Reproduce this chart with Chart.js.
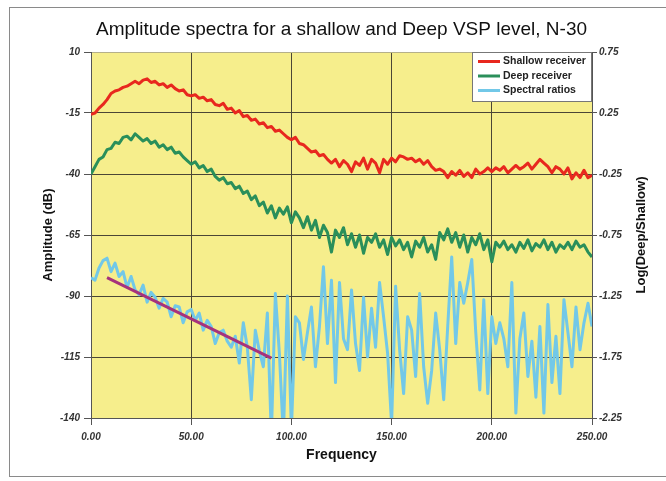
<!DOCTYPE html>
<html>
<head>
<meta charset="utf-8">
<title>Amplitude spectra</title>
<script src="https://cdn.jsdelivr.net/npm/chart.js@4/dist/chart.umd.min.js"></script>
<style>
  html, body { margin: 0; padding: 0; background: #fff; overflow: hidden; }
  #wrap { position: relative; width: 666px; height: 481px; }
  #frame { position: absolute; left: 9px; top: 7px; width: 700px; height: 470px; border: 1px solid #8a8a8a; box-sizing: border-box; pointer-events: none; }
</style>
</head>
<body>
<div id="wrap">
  <div id="frame"></div>
  <canvas id="chart" width="666" height="481"></canvas>
</div>
<script>
// sample frequencies (Hz), every 2 Hz from 0 to 250
const freq = Array.from({ length: 126 }, (_, i) => i * 2);

// Shallow receiver amplitude (dB)
const shallowDb = [
  -15.5, -15, -13, -11.5, -9.5, -7, -6, -5.5, -4.5, -4,
  -3, -2, -3, -1.5, -1, -2.5, -2, -3.5, -3, -4.5,
  -3.5, -5, -6, -5.5, -7.5, -8, -7.5, -9, -8.5, -10,
  -9.5, -11.5, -12, -11, -13.5, -13, -15, -14, -16.5, -16,
  -18, -17.5, -19.5, -19, -21, -20.5, -22.5, -22, -23.5, -25,
  -26, -25, -27.5, -28, -29.5, -31, -30.5, -32.5, -32, -34,
  -35.5, -34, -37, -34.5, -36, -39, -35, -36.5, -33.5, -38,
  -34, -35.5, -39.5, -34, -36, -33.5, -35, -32.5, -33, -34,
  -33.5, -35, -34, -36, -34.5, -37, -38.5, -38, -39, -41.5,
  -39, -40.5, -38.5, -41, -39.5, -41.5, -38, -40, -39, -37.5,
  -39, -37.5, -38.5, -37, -39.5, -38, -36.5, -38, -37, -35.5,
  -38, -36, -34, -35.5, -37, -39.5, -37, -38, -40, -37.5,
  -42, -39.5, -41.5, -38.5, -41.5, -40.5
];

// Deep receiver amplitude (dB)
const deepDb = [
  -40, -37, -34, -33, -30, -29.5, -27, -27.5, -25, -24.5,
  -26, -23.5, -25, -26.5, -25.5, -27.5, -26.5, -29, -28, -30,
  -29, -31.5, -31, -33, -34.5, -36, -35, -37.5, -36.5, -39,
  -38, -41, -42.5, -41.5, -44, -43.5, -46, -45, -48, -47,
  -50.5, -49, -53, -51.5, -56, -53, -58, -54, -56.5, -53.5,
  -60, -55.5, -58, -62, -57.5, -63, -59, -66, -61, -64,
  -72, -63, -66, -62, -69, -64.5, -70, -65, -72.5, -66,
  -68, -64.5, -70, -67, -73, -66, -69.5, -67, -71, -68,
  -74, -67.5, -70, -66, -72, -69, -75, -64, -67, -62.5,
  -68, -64, -70, -65, -72, -66, -69, -64.5, -71, -67,
  -76, -68, -70, -67.5, -71, -69, -72, -68, -70.5, -67,
  -71.5, -68.5, -70, -67, -71, -68, -72, -69, -70.5, -68,
  -71, -67.5, -70, -69, -72, -74
];

// Spectral ratios, log(Deep/Shallow)
const spectralRatio = [
  -1.10, -1.12, -1.02, -0.96, -0.94, -1.05, -0.98, -1.09, -1.05, -1.18,
  -1.09, -1.20, -1.24, -1.16, -1.30, -1.22, -1.26, -1.35, -1.27, -1.30,
  -1.42, -1.33, -1.34, -1.47, -1.38, -1.36, -1.45, -1.39, -1.53, -1.45,
  -1.50, -1.64, -1.55, -1.53, -1.62, -1.67, -1.58, -1.80, -1.47, -1.67,
  -2.10, -1.53, -1.70, -1.83, -1.39, -2.40, -1.23, -1.72, -2.40, -1.25,
  -2.35, -1.42, -1.47, -1.77, -1.55, -1.34, -1.83, -1.50, -1.01, -1.64,
  -1.12, -1.96, -1.14, -1.60, -1.69, -1.20, -1.64, -1.86, -1.26, -1.75,
  -1.35, -1.67, -1.14, -1.42, -1.72, -2.30, -1.17, -1.69, -2.05, -1.42,
  -1.53, -1.91, -1.23, -1.83, -2.13, -1.86, -1.39, -1.69, -2.10, -1.50,
  -0.93, -1.64, -1.14, -1.31, -1.14, -0.95, -1.55, -2.02, -1.28, -2.05,
  -1.42, -1.64, -1.47, -1.60, -1.83, -1.14, -2.21, -1.60, -1.39, -1.91,
  -1.62, -2.08, -1.50, -2.21, -1.32, -1.96, -1.58, -2.05, -1.28, -1.55,
  -1.83, -1.34, -1.69, -1.47, -1.31, -1.50
];

// fitted trend through the low-frequency ratios
const trendFreq = [8, 90];
const trendRatio = [-1.10, -1.76];

const toPoints = (xs, ys) => xs.map((x, i) => ({ x, y: ys[i] }));

const FONT = '"Liberation Sans", Arial, sans-serif';
const GRID = '#4b4636';

// yellow plot background
const plotBg = {
  id: 'plotBg',
  beforeDraw(chart) {
    const { ctx, chartArea: a } = chart;
    ctx.save();
    ctx.fillStyle = '#f6ee8c';
    ctx.fillRect(a.left, a.top, a.right - a.left, a.bottom - a.top);
    ctx.restore();
  }
};

// boxed legend in the top right corner of the plot
const boxLegend = {
  id: 'boxLegend',
  afterDatasetsDraw(chart) {
    const { ctx, chartArea: a } = chart;
    const items = chart.data.datasets.filter(d => d.showInLegend);
    const w = 120, h = 50;
    const x0 = a.right - w, y0 = a.top;
    ctx.save();
    ctx.fillStyle = '#fff';
    ctx.fillRect(x0, y0, w, h);
    ctx.strokeStyle = '#777';
    ctx.lineWidth = 1;
    ctx.strokeRect(x0 + 0.5, y0 + 0.5, w - 1, h - 1);
    ctx.font = 'bold 10.5px ' + FONT;
    ctx.textBaseline = 'middle';
    ctx.fillStyle = '#222';
    items.forEach((d, i) => {
      const y = y0 + 9.5 + i * 14.5;
      ctx.strokeStyle = d.borderColor;
      ctx.lineWidth = 3;
      ctx.beginPath();
      ctx.moveTo(x0 + 6, y);
      ctx.lineTo(x0 + 28, y);
      ctx.stroke();
      ctx.fillText(d.label, x0 + 31, y);
    });
    ctx.restore();
  }
};

// right axis title, reading bottom to top like the left one
const rightTitle = {
  id: 'rightTitle',
  afterDraw(chart) {
    const { ctx, chartArea: a } = chart;
    const s = chart.scales.y2;
    ctx.save();
    ctx.translate(s.right - 15, (a.top + a.bottom) / 2);
    ctx.rotate(-Math.PI / 2);
    ctx.font = 'bold 13px ' + FONT;
    ctx.fillStyle = '#111';
    ctx.textAlign = 'center';
    ctx.textBaseline = 'middle';
    ctx.fillText('Log(Deep/Shallow)', 0, 0);
    ctx.restore();
  }
};

new Chart(document.getElementById('chart'), {
  type: 'line',
  data: {
    datasets: [
      {
        label: 'Shallow receiver',
        data: toPoints(freq, shallowDb),
        borderColor: '#e8281e',
        borderWidth: 3,
        yAxisID: 'y',
        order: 3,
        showInLegend: true
      },
      {
        label: 'Deep receiver',
        data: toPoints(freq, deepDb),
        borderColor: '#2a8f5a',
        borderWidth: 3,
        yAxisID: 'y',
        order: 2,
        showInLegend: true
      },
      {
        label: 'Spectral ratios',
        data: toPoints(freq, spectralRatio),
        borderColor: '#72c8e8',
        borderWidth: 3,
        yAxisID: 'y2',
        order: 1,
        showInLegend: true
      },
      {
        label: 'Trend',
        data: toPoints(trendFreq, trendRatio),
        borderColor: '#a6327c',
        borderWidth: 3,
        yAxisID: 'y2',
        order: 0,
        showInLegend: false
      }
    ]
  },
  options: {
    responsive: false,
    animation: false,
    elements: {
      point: { radius: 0 },
      line: { tension: 0, borderJoinStyle: 'round', fill: false }
    },
    layout: { padding: { left: 32, right: 10, top: 8, bottom: 16 } },
    plugins: {
      legend: { display: false },
      tooltip: { enabled: false },
      title: {
        display: true,
        fullSize: false,
        text: 'Amplitude spectra for a shallow and Deep VSP level, N-30',
        color: '#111',
        font: { family: FONT, size: 19, weight: 'normal' },
        padding: { top: 10, bottom: 11.2 }
      }
    },
    scales: {
      x: {
        type: 'linear',
        min: 0,
        max: 250,
        afterFit: s => { s.height = 47; },
        ticks: {
          stepSize: 50,
          padding: 6,
          color: '#333',
          font: { family: FONT, size: 10, style: 'italic', weight: 'bold' },
          callback: v => v.toFixed(2)
        },
        grid: { color: GRID, tickColor: '#555', tickLength: 7, lineWidth: 1 },
        border: { display: true, color: '#555', width: 1 },
        title: {
          display: true,
          text: 'Frequency',
          color: '#111',
          font: { family: FONT, size: 14, weight: 'bold' },
          padding: { top: 0, bottom: 1 }
        }
      },
      y: {
        position: 'left',
        min: -140,
        max: 10,
        afterFit: s => { s.width = 59; },
        ticks: {
          stepSize: 25,
          padding: 4,
          color: '#333',
          font: { family: FONT, size: 10, style: 'italic', weight: 'bold' }
        },
        grid: {
          color: c => (c.tick && c.tick.value === 10 ? '#b5b08a' : GRID),
          tickColor: '#555',
          tickLength: 7,
          lineWidth: 1
        },
        border: { display: true, color: '#555', width: 1 },
        title: {
          display: true,
          text: 'Amplitude (dB)',
          color: '#111',
          font: { family: FONT, size: 13, weight: 'bold' },
          padding: { top: 9, bottom: 0 }
        }
      },
      y2: {
        position: 'right',
        min: -2.25,
        max: 0.75,
        afterFit: s => { s.width = 64; },
        ticks: {
          stepSize: 0.5,
          padding: 2,
          color: '#333',
          font: { family: FONT, size: 10, style: 'italic', weight: 'bold' },
          callback: v => v.toFixed(2)
        },
        grid: { drawOnChartArea: false, tickColor: '#555', tickLength: 5 },
        border: { display: true, color: '#555', width: 1 }
      }
    }
  },
  plugins: [plotBg, boxLegend, rightTitle]
});
</script>
</body>
</html>
